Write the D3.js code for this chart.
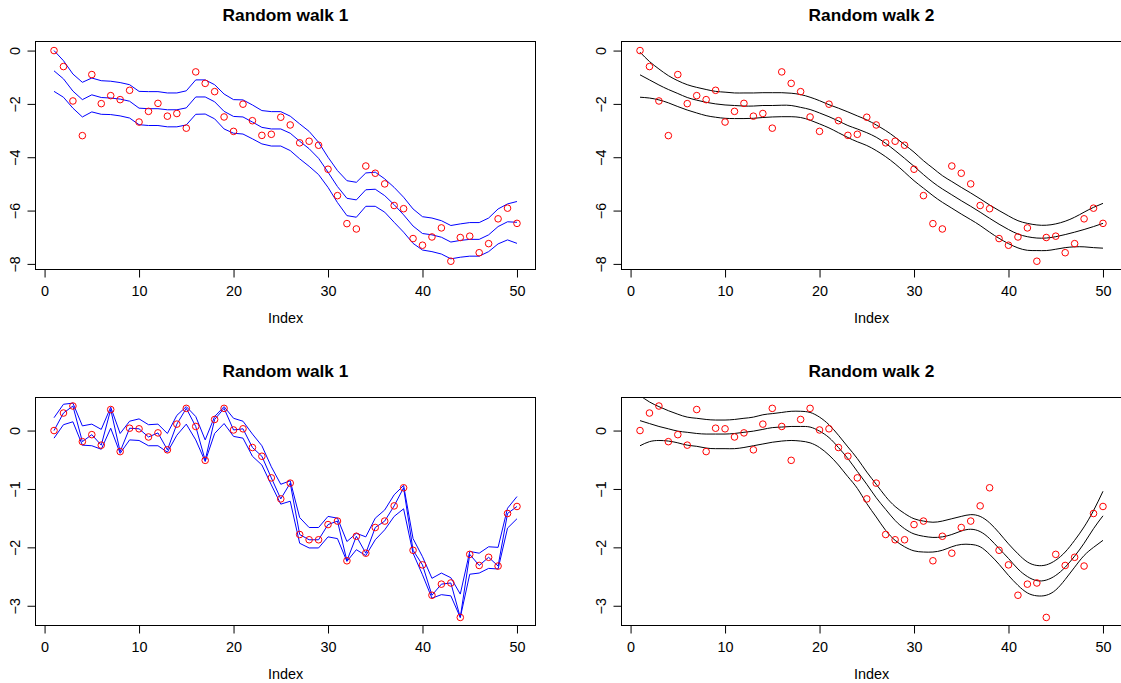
<!DOCTYPE html>
<html>
<head>
<meta charset="utf-8">
<script src="https://cdn.jsdelivr.net/npm/d3@7"></script>
<style>
  body { margin: 0; background: #fff; }
  svg { display: block; }
  text { font-family: "Liberation Sans", Arial, Helvetica, sans-serif; fill: #000; }
</style>
</head>
<body>
<svg id="chart" width="1121" height="683"></svg>
<script>
// ---- data -------------------------------------------------------------
const index = d3.range(1, 51);

// first random walk (top row)
const walk1 = [0, -0.60, -1.89, -3.19, -0.90, -1.99, -1.69, -1.84, -1.49, -2.68,
  -2.28, -1.98, -2.46, -2.36, -2.91, -0.80, -1.23, -1.54, -2.49, -3.03,
  -2.01, -2.63, -3.18, -3.14, -2.50, -2.79, -3.46, -3.40, -3.55, -4.45,
  -5.44, -6.49, -6.69, -4.33, -4.60, -5.00, -5.81, -5.93, -7.05, -7.30,
  -6.99, -6.65, -7.90, -7.01, -6.96, -7.58, -7.24, -6.31, -5.91, -6.48];

// second random walk (bottom row)
const walk2 = [0.00, 0.30, 0.42, -0.19, -0.07, -0.25, 0.36, -0.36, 0.04, 0.03,
  -0.11, -0.04, -0.33, 0.11, 0.38, 0.07, -0.51, 0.19, 0.38, 0.01,
  0.03, -0.29, -0.44, -0.81, -1.17, -0.90, -1.78, -1.87, -1.87, -1.61,
  -1.55, -2.23, -1.81, -2.10, -1.66, -1.55, -1.29, -0.98, -2.05, -2.30,
  -2.82, -2.63, -2.61, -3.20, -2.12, -2.31, -2.17, -2.32, -1.42, -1.30];

// local fit of walk 1 with band (blue)
const w1LocalUpper = [0.00, -0.38, -0.88, -1.19, -1.03, -1.13, -1.15, -1.20, -1.28, -1.53,
  -1.54, -1.54, -1.59, -1.59, -1.51, -1.10, -1.10, -1.28, -1.63, -1.84,
  -1.85, -2.04, -2.25, -2.29, -2.29, -2.46, -2.75, -3.03, -3.44, -4.00,
  -4.50, -4.88, -4.94, -4.59, -4.56, -4.81, -5.13, -5.50, -5.94, -6.23,
  -6.28, -6.38, -6.56, -6.50, -6.45, -6.45, -6.28, -5.94, -5.75, -5.66];
const w1LocalFit = [-0.76, -1.06, -1.52, -1.84, -1.66, -1.76, -1.78, -1.82, -1.90, -2.16,
  -2.18, -2.18, -2.22, -2.22, -2.15, -1.74, -1.74, -1.92, -2.28, -2.47,
  -2.49, -2.68, -2.88, -2.94, -2.94, -3.10, -3.40, -3.68, -4.04, -4.56,
  -5.10, -5.54, -5.60, -5.22, -5.20, -5.44, -5.78, -6.16, -6.58, -6.86,
  -6.91, -7.00, -7.18, -7.12, -7.08, -7.08, -6.91, -6.60, -6.42, -6.44];
const w1LocalLower = [-1.53, -1.75, -2.16, -2.49, -2.30, -2.39, -2.40, -2.45, -2.53, -2.78,
  -2.81, -2.81, -2.86, -2.86, -2.79, -2.39, -2.38, -2.56, -2.94, -3.10,
  -3.13, -3.31, -3.50, -3.58, -3.58, -3.75, -4.06, -4.34, -4.65, -5.13,
  -5.70, -6.19, -6.25, -5.84, -5.84, -6.06, -6.44, -6.81, -7.23, -7.48,
  -7.54, -7.63, -7.81, -7.75, -7.71, -7.71, -7.54, -7.25, -7.10, -7.23];

// smooth fit of walk 1 with band (black)
const w1SmoothUpper = [-0.06, -0.41, -0.69, -0.94, -1.13, -1.28, -1.38, -1.46, -1.53, -1.56,
  -1.59, -1.59, -1.59, -1.58, -1.58, -1.58, -1.60, -1.65, -1.75, -1.88,
  -2.03, -2.16, -2.30, -2.45, -2.60, -2.79, -3.00, -3.25, -3.53, -3.81,
  -4.13, -4.41, -4.69, -4.91, -5.13, -5.34, -5.56, -5.79, -6.00, -6.20,
  -6.38, -6.48, -6.54, -6.55, -6.50, -6.40, -6.25, -6.06, -5.88, -5.73];
const w1SmoothFit = [-0.91, -1.10, -1.29, -1.46, -1.61, -1.76, -1.86, -1.94, -2.00, -2.04,
  -2.06, -2.08, -2.08, -2.06, -2.06, -2.05, -2.06, -2.13, -2.21, -2.34,
  -2.48, -2.64, -2.81, -2.94, -3.08, -3.25, -3.48, -3.75, -4.04, -4.34,
  -4.65, -4.94, -5.19, -5.41, -5.63, -5.84, -6.06, -6.29, -6.51, -6.71,
  -6.88, -6.98, -7.03, -7.03, -6.98, -6.90, -6.81, -6.71, -6.60, -6.48];
const w1SmoothLower = [-1.75, -1.78, -1.85, -1.96, -2.10, -2.23, -2.34, -2.44, -2.50, -2.54,
  -2.55, -2.55, -2.54, -2.51, -2.49, -2.48, -2.48, -2.51, -2.61, -2.75,
  -2.90, -3.08, -3.26, -3.42, -3.56, -3.75, -3.98, -4.25, -4.56, -4.88,
  -5.16, -5.44, -5.69, -5.91, -6.13, -6.34, -6.56, -6.81, -7.04, -7.24,
  -7.40, -7.49, -7.50, -7.50, -7.45, -7.39, -7.36, -7.36, -7.39, -7.41];

// local fit of walk 2 with band (blue)
const w2LocalUpper = [0.22, 0.45, 0.47, 0.08, 0.11, 0.02, 0.40, -0.05, 0.16, 0.20,
  0.10, 0.11, -0.05, 0.26, 0.41, 0.24, -0.16, 0.24, 0.41, 0.21,
  0.16, -0.06, -0.26, -0.62, -0.92, -0.86, -1.49, -1.66, -1.66, -1.47,
  -1.50, -1.90, -1.76, -1.82, -1.50, -1.36, -1.10, -0.94, -1.85, -2.16,
  -2.53, -2.44, -2.52, -2.80, -2.07, -2.10, -1.99, -2.00, -1.33, -1.13];
const w2LocalFit = [0.00, 0.30, 0.42, -0.19, -0.07, -0.25, 0.36, -0.36, 0.04, 0.03,
  -0.11, -0.04, -0.33, 0.11, 0.38, 0.07, -0.51, 0.19, 0.38, 0.01,
  0.03, -0.29, -0.44, -0.81, -1.17, -0.90, -1.78, -1.87, -1.87, -1.61,
  -1.55, -2.23, -1.81, -2.10, -1.66, -1.55, -1.29, -0.98, -2.05, -2.30,
  -2.82, -2.63, -2.61, -3.20, -2.12, -2.31, -2.17, -2.32, -1.42, -1.30];
const w2LocalLower = [-0.13, 0.10, 0.15, -0.25, -0.26, -0.32, 0.04, -0.39, -0.16, -0.17,
  -0.26, -0.26, -0.37, -0.08, 0.11, -0.16, -0.53, -0.05, 0.12, -0.10,
  -0.13, -0.44, -0.59, -0.93, -1.26, -1.21, -1.93, -2.01, -2.01, -1.82,
  -1.85, -2.24, -2.04, -2.14, -1.87, -1.70, -1.47, -1.34, -2.10, -2.47,
  -2.87, -2.81, -2.83, -3.20, -2.46, -2.44, -2.36, -2.37, -1.67, -1.51];

// smooth fit of walk 2 with band (black)
const w2SmoothUpper = [0.60, 0.49, 0.41, 0.34, 0.28, 0.23, 0.21, 0.19, 0.18, 0.18,
  0.19, 0.21, 0.23, 0.27, 0.29, 0.31, 0.33, 0.33, 0.31, 0.23,
  0.10, -0.08, -0.28, -0.48, -0.71, -0.92, -1.13, -1.30, -1.42, -1.51,
  -1.55, -1.57, -1.55, -1.51, -1.47, -1.44, -1.47, -1.58, -1.75, -1.94,
  -2.11, -2.25, -2.31, -2.30, -2.22, -2.08, -1.88, -1.65, -1.37, -1.04];
const w2SmoothFit = [0.17, 0.12, 0.07, 0.03, -0.01, -0.03, -0.05, -0.06, -0.06, -0.06,
  -0.05, -0.03, -0.01, 0.02, 0.05, 0.06, 0.07, 0.07, 0.06, -0.01,
  -0.12, -0.29, -0.48, -0.70, -0.92, -1.15, -1.35, -1.54, -1.68, -1.77,
  -1.81, -1.83, -1.82, -1.78, -1.72, -1.69, -1.73, -1.85, -2.02, -2.19,
  -2.37, -2.50, -2.57, -2.56, -2.48, -2.34, -2.15, -1.93, -1.68, -1.46];
const w2SmoothLower = [-0.26, -0.19, -0.17, -0.18, -0.21, -0.25, -0.27, -0.30, -0.31, -0.31,
  -0.31, -0.29, -0.26, -0.23, -0.20, -0.18, -0.17, -0.18, -0.21, -0.29,
  -0.42, -0.59, -0.79, -0.99, -1.25, -1.48, -1.71, -1.88, -1.99, -2.06,
  -2.08, -2.08, -2.05, -1.99, -1.95, -1.95, -1.99, -2.12, -2.29, -2.48,
  -2.65, -2.78, -2.83, -2.82, -2.73, -2.55, -2.34, -2.14, -2.00, -1.88];

const xTicks = [0, 10, 20, 30, 40, 50];
const yTicksWalk1 = [0, -2, -4, -6, -8];
const yTicksWalk2 = [0, -1, -2, -3];
const titles = ["Random walk 1", "Random walk 2", "Random walk 1", "Random walk 2"];
const xLabel = "Index";

// ---- layout -----------------------------------------------------------
const svg = d3.select("#chart");
const xDomain = [-0.96, 51.96];
const colLeft = [[35.5, 535.5], [621.5, 1121.5]];
const rowTop = [{ range: [269.5, 41.5], domain: [-8.21, 0.34], ticks: yTicksWalk1 },
                { range: [625.5, 397.5], domain: [-3.338, 0.566], ticks: yTicksWalk2 }];

const panels = [
  { row: 0, col: 0, title: titles[0], pts: walk1, lines: [w1LocalUpper, w1LocalFit, w1LocalLower], color: "#0000FF", smooth: false },
  { row: 0, col: 1, title: titles[1], pts: walk1, lines: [w1SmoothUpper, w1SmoothFit, w1SmoothLower], color: "#000000", smooth: true },
  { row: 1, col: 0, title: titles[2], pts: walk2, lines: [w2LocalUpper, w2LocalFit, w2LocalLower], color: "#0000FF", smooth: false },
  { row: 1, col: 1, title: titles[3], pts: walk2, lines: [w2SmoothUpper, w2SmoothFit, w2SmoothLower], color: "#000000", smooth: true }
];

const fmt = d3.format("d");

panels.forEach((p, k) => {
  const xr = colLeft[p.col];
  const yr = rowTop[p.row];
  const x = d3.scaleLinear().domain(xDomain).range(xr);
  const y = d3.scaleLinear().domain(yr.domain).range(yr.range);
  const left = xr[0], right = xr[1], top = yr.range[1], bottom = yr.range[0];

  const g = svg.append("g");
  const clipId = "clip" + k;
  g.append("clipPath").attr("id", clipId)
    .append("rect").attr("x", left).attr("y", top)
    .attr("width", right - left).attr("height", bottom - top);

  const plot = g.append("g").attr("clip-path", `url(#${clipId})`);

  const line = d3.line()
    .x((d, i) => x(index[i]))
    .y(d => y(d))
    .curve(p.smooth ? d3.curveNatural : d3.curveLinear);

  plot.selectAll("path.fit").data(p.lines).join("path")
    .attr("class", "fit")
    .attr("d", line)
    .attr("fill", "none")
    .attr("stroke", p.color)
    .attr("stroke-width", 1);

  plot.selectAll("circle").data(p.pts).join("circle")
    .attr("cx", (d, i) => x(index[i]))
    .attr("cy", d => y(d))
    .attr("r", 3.3)
    .attr("fill", "none")
    .attr("stroke", "#FF0000")
    .attr("stroke-width", 1);

  // frame
  g.append("rect")
    .attr("x", left).attr("y", top)
    .attr("width", right - left).attr("height", bottom - top)
    .attr("fill", "none").attr("stroke", "#000").attr("stroke-width", 1);

  // x axis
  const gx = g.append("g").attr("transform", `translate(0,${bottom})`)
    .call(d3.axisBottom(x).tickValues(xTicks).tickSize(8).tickFormat(fmt));
  gx.select(".domain").remove();
  gx.selectAll(".tick line").attr("stroke", "#000");
  gx.selectAll(".tick text")
    .attr("y", 26).attr("dy", null)
    .style("font-size", "14.4px")
    .style("font-family", "'Liberation Sans', Arial, Helvetica, sans-serif")
    .attr("fill", "#000");

  // y axis
  const gy = g.append("g").attr("transform", `translate(${left},0)`)
    .call(d3.axisLeft(y).tickValues(yr.ticks).tickSize(8).tickFormat(fmt));
  gy.select(".domain").remove();
  gy.selectAll(".tick line").attr("stroke", "#000");
  gy.selectAll(".tick text")
    .attr("x", 0).attr("y", 0).attr("dy", null)
    .attr("transform", "translate(-16,0) rotate(-90)")
    .attr("text-anchor", "middle")
    .style("font-size", "14.4px")
    .style("font-family", "'Liberation Sans', Arial, Helvetica, sans-serif")
    .attr("fill", "#000");

  // title and axis label
  const cx = (left + Math.min(right, 1121.5)) / 2;
  g.append("text")
    .attr("x", cx).attr("y", top - 21)
    .attr("text-anchor", "middle")
    .style("font-size", "17.3px").style("font-weight", "bold")
    .text(p.title);

  g.append("text")
    .attr("x", cx).attr("y", bottom + 53)
    .attr("text-anchor", "middle")
    .style("font-size", "14.4px")
    .text(xLabel);
});
</script>
</body>
</html>
